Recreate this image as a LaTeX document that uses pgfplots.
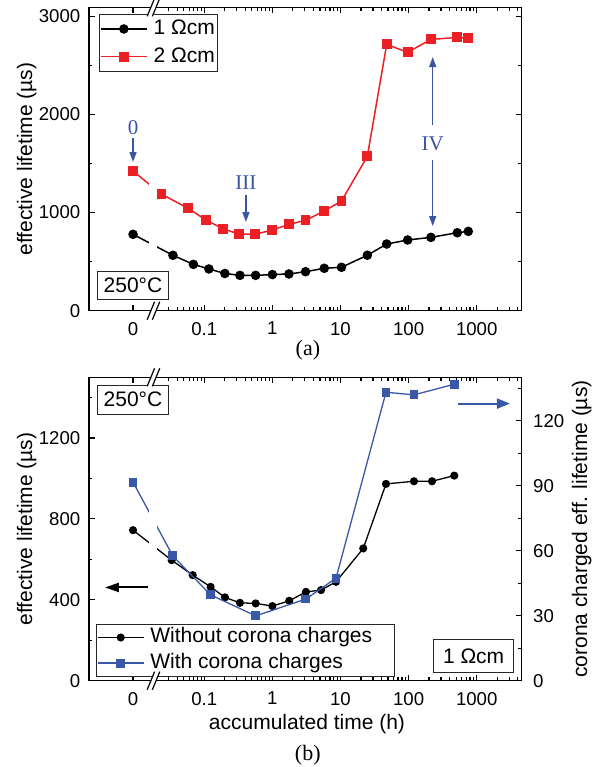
\documentclass[border=0pt]{standalone}
\usepackage{fontspec}
\setmainfont{Liberation Sans}
\newfontfamily\timesfont{Liberation Serif}
\usepackage{pgfplots}
\pgfplotsset{compat=1.18}
\usetikzlibrary{arrows.meta}
\definecolor{cred}{RGB}{236,32,36}
\definecolor{cblue}{RGB}{58,88,168}
\definecolor{ablue}{RGB}{60,84,164}
\newcommand{\lf}{\fontsize{10.5}{12.6}\selectfont}
\tikzset{boxnode/.style={draw=black!85, line width=0.5pt, fill=white, inner sep=0pt, font=\lf, anchor=center}}
\pgfplotsset{
  every axis/.append style={
  scale only axis, width=216.35pt, height=151.7pt,
  xmin=0.00203, xmax=4580,
  xtick={0.009,0.1,1,10,100,1000},
  xticklabels={0,0.1,1,10,100,1000},
  minor xtick={0.03,0.04,0.05,0.06,0.07,0.08,0.09,0.2,0.3,0.4,0.5,0.6,0.7,0.8,0.9,2,3,4,5,6,7,8,9,20,30,40,50,60,70,80,90,200,300,400,500,600,700,800,900,2000,3000,4000},
  axis line style={line width=0.6pt},
  major tick length=3pt, minor tick length=1.7pt,
  tick style={black, line width=0.6pt},
  tick label style={font=\fontsize{9.3}{11}\selectfont},
  label style={font=\lf},
  scaled y ticks=false,
  xticklabel style={yshift=-2.2pt},
  clip mode=individual,
  legend cell align=left,
  legend image code/.code={\draw[mark repeat=2,mark phase=2] plot coordinates {(0pt,0pt) (11.5pt,0pt) (23pt,0pt)};},
  },
  /pgf/number format/assume math mode=true,
  /pgf/number format/1000 sep={},
}
\begin{document}
\begin{tikzpicture}
% ---------------- panel (a)
\begin{semilogxaxis}[at={(44.5pt,228.15pt)}, anchor=south west,
  ymin=0, ymax=3090, ytick={0,1000,2000,3000}, minor ytick={500,1500,2500},
  yticklabel style={xshift=-0.85pt},
  ylabel={effective lifetime (µs)},
  ylabel style={at={(axis description cs:-0.144,0.5)}, anchor=center},
  legend style={at={(axis description cs:0.0231,0.978)}, anchor=north west,
    draw=black!85, line width=0.5pt, fill=white, inner xsep=0.3pt, inner ysep=1pt,
    font=\lf, row sep=1.35pt, column sep=2pt,
    nodes={inner sep=1pt, text height=8pt, text depth=2.5pt}},
]
\addplot[black, line width=0.75pt, mark=*, mark size=2pt] table {
x y
0.009 778
0.0347 564
0.0693 472
0.117 425
0.201 379
0.334 360
0.568 360
1.0 368
1.75 374
3.07 397
5.78 432
10.35 442
24.8 565
47.7 679
97 720
213 747
519 794
753 808
};
\addlegendentry{1 Ωcm}
\addplot[cred, line width=0.75pt, mark=square*, mark size=2.1pt] table {
x y
0.009 1422
0.0234 1188
0.0582 1042
0.106 923
0.19 834
0.327 779
0.561 779
0.976 820
1.77 880
3.07 921
5.78 1015
10.35 1117
24.8 1572
47.7 2712
97 2631
213 2763
519 2783
753 2776
};
\addlegendentry{2 Ωcm}
\fill[white] (rel axis cs:0.139,0.004) rectangle (rel axis cs:0.157,0.996);
\node[boxnode, minimum width=35.3pt, minimum height=13.8pt] at (rel axis cs:0.1017,0.0831) {250°C};
\node[ablue, font=\timesfont\fontsize{10.5}{12.6}\selectfont] at (axis cs:0.009,1863) {0};
\draw[ablue, line width=0.65pt, -{Triangle[length=5pt,width=3.5pt]}] (axis cs:0.009,1758) -- (axis cs:0.009,1514);
\node[ablue, font=\timesfont\fontsize{10.5}{12.6}\selectfont] at (axis cs:0.409,1300) {III};
\draw[ablue, line width=0.65pt, -{Triangle[length=5pt,width=3.5pt]}] (axis cs:0.409,1178) -- (axis cs:0.409,903);
\node[ablue, font=\timesfont\fontsize{10.5}{12.6}\selectfont] at (axis cs:226,1700) {IV};
\draw[ablue, line width=0.65pt, -{Triangle[length=5pt,width=3.5pt]}] (axis cs:226,1890) -- (axis cs:226,2583);
\draw[ablue, line width=0.65pt, -{Triangle[length=5pt,width=3.5pt]}] (axis cs:226,1534) -- (axis cs:226,862);
\node[font=\timesfont\fontsize{11}{13}\selectfont, anchor=base] at (rel axis cs:0.506,-0.148) {(a)};
\coordinate (aB) at (rel axis cs:0.149,0);
\coordinate (aT) at (rel axis cs:0.149,1);
\end{semilogxaxis}
% ---------------- panel (b), left axis
\begin{semilogxaxis}[at={(44.5pt,43.15pt)}, anchor=south west,
  axis y line*=left,
  ymin=0, ymax=1500, ytick={0,400,800,1200}, minor ytick={200,600,1000,1400},
  yticklabel style={xshift=-0.85pt},
  ylabel={effective lifetime (µs)},
  ylabel style={at={(axis description cs:-0.144,0.5)}, anchor=center},
  xlabel={accumulated time (h)},
  xlabel style={at={(axis description cs:0.5037,-0.160)}, anchor=base},
]
\addplot[black, line width=0.65pt, mark=*, mark size=1.7pt] table {
x y
0.009 744
0.0332 596
0.0676 522
0.124 464
0.201 412
0.334 385
0.569 382
1.0 369
1.77 395
3.11 439
5.18 448
8.6 489
21.6 654
46.6 973
120 986
221 986
469 1014
};
\fill[white] (rel axis cs:0.139,0.004) rectangle (rel axis cs:0.157,0.996);
\draw[black, line width=1pt, -{Triangle[length=7pt,width=4.5pt]}] (axis cs:0.01507,461) -- (axis cs:0.00348,461);
\draw[cblue, line width=1pt, -{Triangle[length=6.5pt,width=5pt]}] (axis cs:537,1370) -- (axis cs:3083,1370);
\node[font=\timesfont\fontsize{11}{13}\selectfont, anchor=base] at (rel axis cs:0.5056,-0.2637) {(b)};
\coordinate (bB) at (rel axis cs:0.149,0);
\coordinate (bT) at (rel axis cs:0.149,1);
\end{semilogxaxis}
% ---------------- panel (b), right axis
\begin{semilogxaxis}[at={(44.5pt,43.15pt)}, anchor=south west,
  axis y line*=right, axis x line=none,
  ymin=0, ymax=140, ytick={0,30,60,90,120}, minor ytick={15,45,75,105,135},
  yticklabel style={xshift=2.2pt},
  ylabel={corona charged eff. lifetime (µs)},
  ylabel style={at={(axis description cs:1.1387,0.5)}, anchor=center},
  legend style={at={(axis description cs:0.0162,0.0132)}, anchor=south west,
    draw=black!85, line width=0.5pt, fill=white, inner xsep=0.3pt, inner ysep=0.3pt,
    font=\lf, row sep=0.3pt, column sep=2pt,
    nodes={inner sep=1pt, text height=8pt, text depth=2.5pt}},
]
\addlegendimage{black, line width=0.65pt, mark=*, mark size=1.7pt}
\addlegendentry{Without corona charges\hspace*{10pt}}
\addplot[cblue, line width=0.65pt, mark=square*, mark size=1.9pt] table {
x y
0.009 91.6
0.0345 57.6
0.124 39.6
0.569 29.9
3.11 37.7
8.6 47.3
46.6 133.1
120 131.9
469 136.8
};
\addlegendentry{With corona charges}
\fill[white] (rel axis cs:0.139,0.004) rectangle (rel axis cs:0.157,0.996);
\node[boxnode, minimum width=35.3pt, minimum height=14.65pt] at (rel axis cs:0.1017,0.9263) {250°C};
\node[boxnode, minimum width=39.65pt, minimum height=16.7pt] at (rel axis cs:0.8889,0.0814) {1 Ωcm};
\end{semilogxaxis}
% ---------------- axis breaks
\foreach \c in {aB,aT,bB,bT} {
  \fill[white] ([shift={(-3.15pt,-4.5pt)}]\c) -- ([shift={(-0.55pt,-4.5pt)}]\c) -- ([shift={(3.15pt,4.5pt)}]\c) -- ([shift={(0.55pt,4.5pt)}]\c) -- cycle;
  \draw[line width=0.6pt] ([shift={(-3.15pt,-4.5pt)}]\c) -- ([shift={(0.55pt,4.5pt)}]\c);
  \draw[line width=0.6pt] ([shift={(-0.55pt,-4.5pt)}]\c) -- ([shift={(3.15pt,4.5pt)}]\c);
}
\pgfresetboundingbox
\path[use as bounding box] (0,0) rectangle (298.5pt,383.5pt);
\end{tikzpicture}
\end{document}
